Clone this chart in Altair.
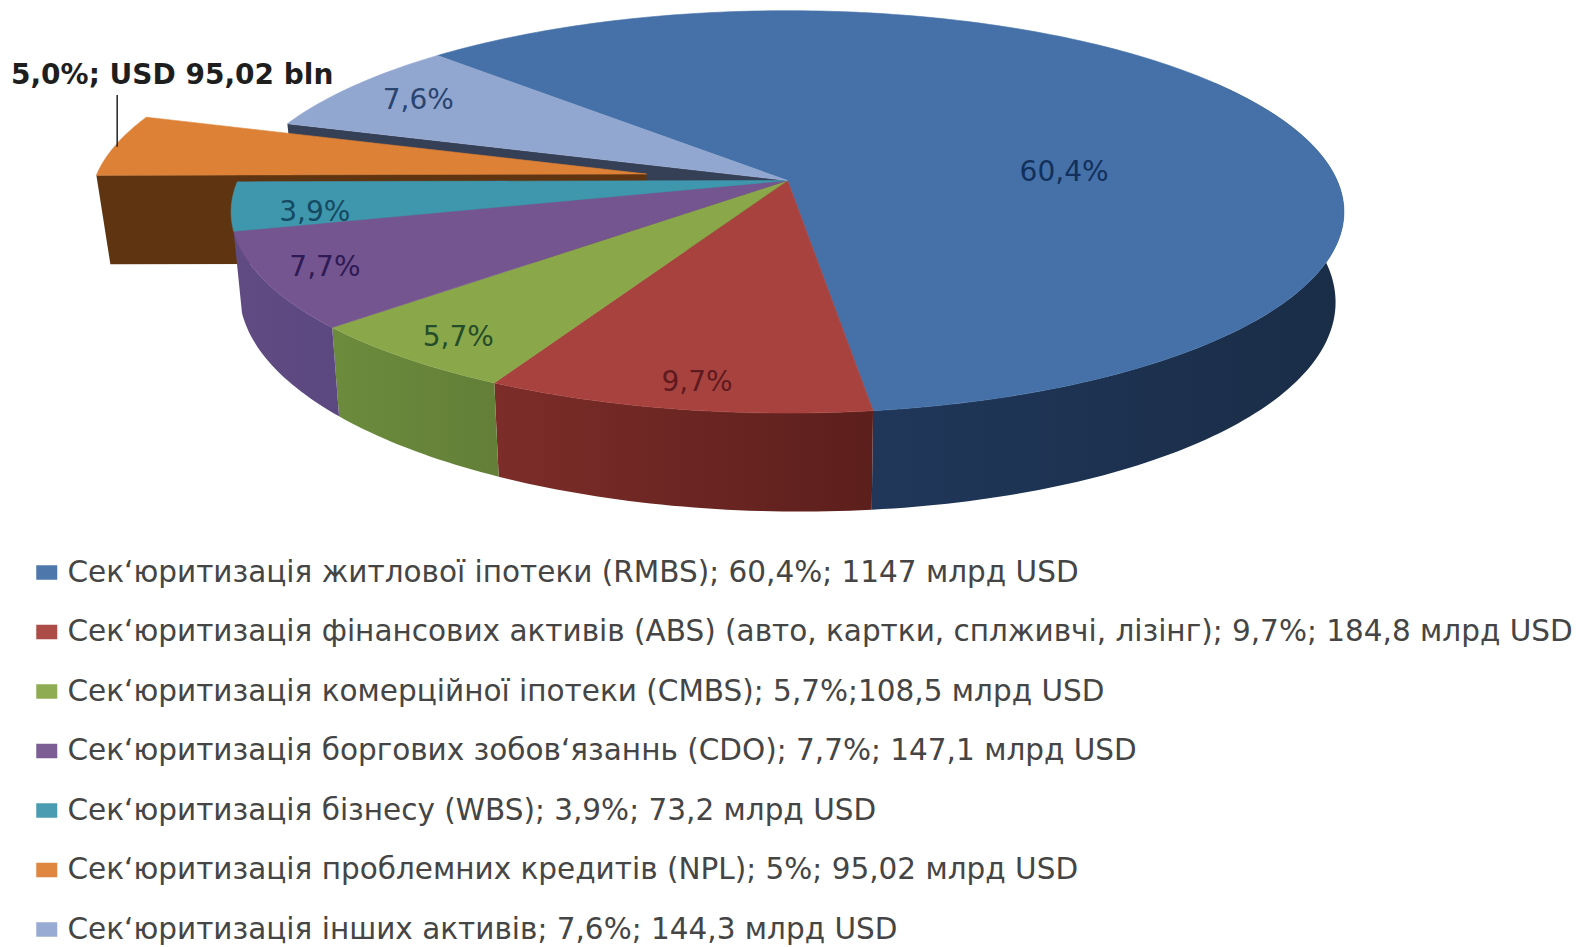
import math
import altair as alt

names = [
    "Сек‘юритизація житлової іпотеки (RMBS); 60,4%; 1147 млрд USD",
    "Сек‘юритизація фінансових активів (ABS) (авто, картки, сплживчі, лізінг); 9,7%; 184,8 млрд USD",
    "Сек‘юритизація  комерційної іпотеки (CMBS); 5,7%;108,5 млрд USD",
    "Сек‘юритизація  боргових зобов‘язаннь (CDO); 7,7%; 147,1 млрд USD",
    "Сек‘юритизація бізнесу (WBS); 3,9%; 73,2 млрд USD",
    "Сек‘юритизація проблемних кредитів (NPL); 5%; 95,02 млрд USD",
    "Сек‘юритизація інших активів; 7,6%; 144,3 млрд USD",
]
shares = [60.4, 9.7, 5.7, 7.7, 3.9, 5.0, 7.6]
labels = ["60,4%", "9,7%", "5,7%", "7,7%", "3,9%", None, "7,6%"]
callout = "5,0%; USD 95,02 bln"

top_colors = ["#4571a8", "#a8423e", "#8aa84a", "#75558f", "#3f97ae", "#dd8137", "#92a7d0"]
wall_left = ["#20375a", "#7c2d29", "#6c8b3c", "#604b82"]
wall_right = ["#1a2d47", "#5c1f1c", "#637f38", "#5c4880"]
label_colors = ["#12305c", "#5f1a20", "#264d2a", "#2e1a55", "#154a62", None, "#2a4470"]
label_fx = [0.60, 0.81, 0.86, 0.885, 0.85, 0, 0.85]
label_fy = [0.09, 0.885, 0.885, 0.87, 1.25, 0, 0.84]

APEX = (787.5, 180.5)
A, B, K = 549.6, 196.3, -0.156
START = 315.0
WALL_SX, WALL_SY, WALL_DY, WALL_SKEW = 0.985, 1.065, 83.3, 0.009
EXPLODE = (-141.0, -6.5)
EXPLODED_DEPTH = 89.0


def rim(deg, off=(0.0, 0.0)):
    u, v = math.sin(math.radians(deg)), -math.cos(math.radians(deg))
    d = 1 + K * v
    return (APEX[0] + off[0] + A * u / d, APEX[1] + off[1] + B * v / d)


def low(deg, off=(0.0, 0.0)):
    x, y = rim(deg)
    dx, dy = x - APEX[0], y - APEX[1]
    return (APEX[0] + off[0] + WALL_SX * dx,
            APEX[1] + off[1] + WALL_SY * dy + WALL_SKEW * dx + WALL_DY)


def arc(a, b, fn, off=(0.0, 0.0)):
    n = max(2, int(abs(b - a)) + 1)
    return [fn(a + (b - a) * i / n, off) for i in range(n + 1)]


def feature(points, **props):
    ring = [list(p) for p in points]
    ring.append(ring[0])
    return {"type": "Feature", "geometry": {"type": "Polygon", "coordinates": [ring]}, "properties": props}


angles = [START]
for s in shares:
    angles.append(angles[-1] + s * 3.6)
spans = list(zip(angles[:-1], angles[1:]))

apex_low = (APEX[0], APEX[1] + WALL_DY)


def project(ch):
    return ch.project(type="identity", scale=1, translate=[-8, -8])


def shapes(features, **mark):
    return project(alt.Chart(alt.Data(values=features)).mark_geoshape(**mark))


color_scale = alt.Scale(domain=names, range=top_colors)
color_enc = alt.Color(
    "properties.name:N",
    scale=color_scale,
    sort=names,
    legend=alt.Legend(
        title=None, orient="none", legendX=24, legendY=546.5, padding=0, columns=1,
        rowPadding=23.5, labelFont="DejaVu Sans", labelFontSize=29.5, labelColor="#454545",
        labelLimit=1560, labelOffset=6, symbolType="M-1,-0.7H1V0.7H-1Z", symbolSize=441,
        symbolStrokeWidth=0, symbolOpacity=0.95, clipHeight=36,
    ),
)
stroke_enc = alt.Stroke("properties.name:N", scale=color_scale, legend=None)

layers = []

# cut face of the slice next to the pulled-out one
lb_a = spans[6][0]
layers.append(shapes([feature([APEX, rim(lb_a), low(lb_a), apex_low])], fill="#353f56"))

# pulled-out slice
oa, ob = spans[5]
ox = (APEX[0] + EXPLODE[0], APEX[1] + EXPLODE[1])
corner = rim(oa, EXPLODE)
ox_low = (ox[0], ox[1] + EXPLODED_DEPTH)
corner_low = (corner[0] + 14, corner[1] + EXPLODED_DEPTH)
layers.append(shapes([feature([ox, corner, corner_low, ox_low])], fill="#5e3411"))
layers.append(
    shapes([feature([ox] + arc(oa, ob, rim, EXPLODE), name=names[5])], strokeWidth=0.6)
    .encode(color=color_enc, stroke=stroke_enc)
)

# walls: only the arc that faces the viewer
wall_spans = [(spans[0][1] - 115, spans[0][1]), spans[1], spans[2], spans[3]]
for i, (a, b) in enumerate(wall_spans):
    pts = arc(a, b, rim) + arc(a, b, low)[::-1]
    grad = alt.Gradient(
        gradient="linear", x1=0, x2=1, y1=0, y2=0,
        stops=[alt.GradientStop(color=wall_left[i], offset=0),
               alt.GradientStop(color=wall_right[i], offset=1)],
    )
    layers.append(shapes([feature(pts)], fill=grad))

# tops
tops = [feature([APEX] + arc(a, b, rim), name=names[i]) for i, (a, b) in enumerate(spans) if i != 5]
layers.append(shapes(tops, strokeWidth=0.6).encode(color=color_enc, stroke=stroke_enc))

# value labels
rows = []
for i, (a, b) in enumerate(spans):
    if labels[i] is None:
        continue
    x, y = rim((a + b) / 2)
    rows.append({
        "lon": APEX[0] + label_fx[i] * (x - APEX[0]),
        "lat": APEX[1] + label_fy[i] * (y - APEX[1]),
        "text": labels[i],
        "ink": label_colors[i],
    })
layers.append(
    project(alt.Chart(alt.Data(values=rows)).mark_text(
        font="DejaVu Sans", fontSize=28, align="center", baseline="middle"
    )).encode(
        longitude="lon:Q", latitude="lat:Q", text="text:N",
        fill=alt.Fill("ink:N", scale=None),
    )
)

# callout for the pulled-out slice
tip = rim(ob - 9.5, EXPLODE)
layers.append(
    project(alt.Chart(alt.Data(values=[
        {"lon": tip[0] + 3, "lat": 95}, {"lon": tip[0] + 3, "lat": tip[1]},
    ])).mark_line(color="#222222", strokeWidth=1.5)).encode(longitude="lon:Q", latitude="lat:Q")
)
layers.append(
    project(alt.Chart(alt.Data(values=[{"lon": 11, "lat": 76, "text": callout}])).mark_text(
        font="DejaVu Sans", fontWeight="bold", fontSize=28, align="left", baseline="middle", color="#1e1e1e"
    )).encode(longitude="lon:Q", latitude="lat:Q", text="text:N")
)

chart = alt.layer(*layers).properties(
    width=1571, height=939, padding=0, autosize=alt.AutoSizeParams(type="none"),
    background="white",
).configure_view(stroke=None)

chart.save("out.html", embed_options={"renderer": "svg", "actions": False})
